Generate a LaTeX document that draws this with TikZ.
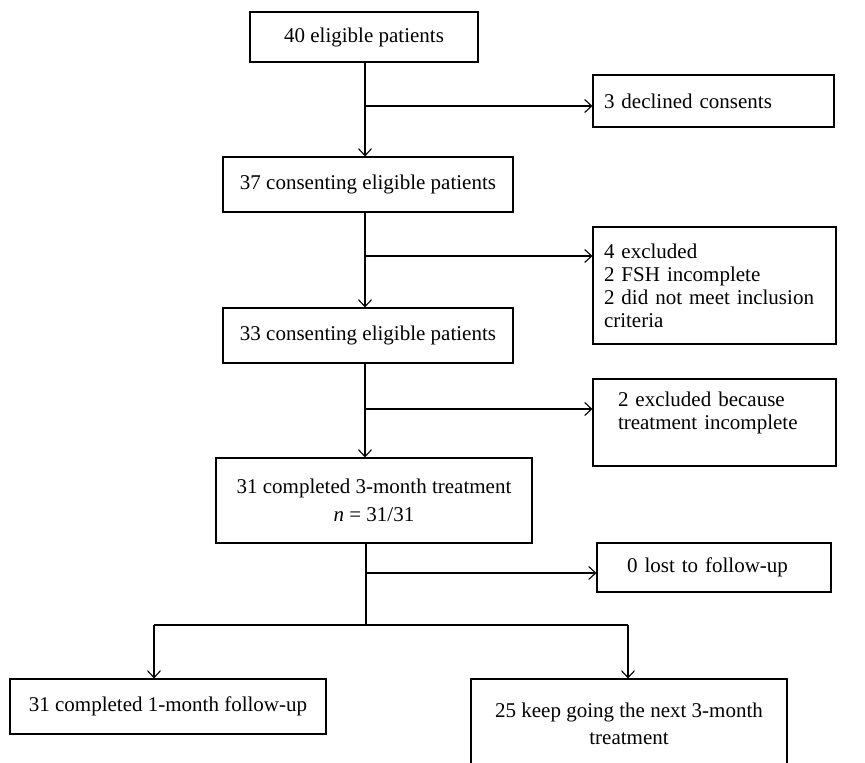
\documentclass[tikz,border=0pt]{standalone}
\usepackage{fontspec}
\setmainfont{Liberation Serif}
\usetikzlibrary{arrows.meta}
\tikzset{
	box/.style={draw, line width=1.1pt, inner xsep=11pt, inner ysep=0pt, font=\fontsize{21}{23}\selectfont},
	side/.style={box, align=left},
	wire/.style={line width=1.1pt},
	flow/.style={wire, -{Straight Barb[length=7pt,width=13pt]}},
}

\begin{document}
\begin{tikzpicture}[x=1pt,y=-1pt]
	%%%%% START %%%%%
	\useasboundingbox (0,0) rectangle (865,763);
	
	% main column
	\node[box, minimum width=228pt, minimum height=50pt] (elig40) at (364,37) {40 eligible patients};
	\node[box, minimum width=290pt, minimum height=55pt] (cons37) at (368,184.5) {37 consenting eligible patients};
	\node[box, minimum width=290pt, minimum height=55pt] (cons33) at (368,335.5) {33 consenting eligible patients};
	\node[box, minimum width=316pt, minimum height=85pt, align=center, font=\fontsize{21}{28}\selectfont] (treat31) at (374,500.5) {31 completed 3-month treatment\\\textit{n} = 31/31};
	\node[box, minimum width=316pt, minimum height=55pt] (follow31) at (168,706.5) {31 completed 1-month follow-up};
	\node[box, minimum width=316pt, minimum height=90pt, align=center, font=\fontsize{21}{27}\selectfont] (keep25) at (629,724) {25 keep going the next 3-month\\treatment};
	
	% side boxes
	\node[side, text width=219pt, minimum height=52pt] (decl3) at (713.5,101) {3 declined consents};
	\node[side, text width=221pt, minimum height=117pt] (excl4) at (714.5,285.5) {4 excluded\\2 FSH incomplete\\2 did not meet inclusion\\criteria};
	\node[side, inner xsep=25pt, text width=193pt, minimum height=87pt] (excl2) at (714.5,422.5) {2 excluded because\\treatment incomplete\\~};
	\node[side, inner xsep=30pt, text width=174pt, minimum height=49pt] (lost0) at (714,567.5) {0 lost to follow-up};
	
	\coordinate (br1) at (365,106);
	\coordinate (br2) at (365,256);
	\coordinate (br3) at (365,409);
	\coordinate (br4) at (366,573);
	\coordinate (split) at (366,625);
	\coordinate (splitL) at (154,625);
	\coordinate (splitR) at (628,625);
	
	\draw[flow] (elig40.south -| br1) -- (br1 |- cons37.north);
	\draw[flow] (br1) -- (br1 -| decl3.west);
	\draw[flow] (cons37.south -| br2) -- (br2 |- cons33.north);
	\draw[flow] (br2) -- (br2 -| excl4.west);
	\draw[flow] (cons33.south -| br3) -- (br3 |- treat31.north);
	\draw[flow] (br3) -- (br3 -| excl2.west);
	
	\draw[wire] (treat31.south -| br4) -- (split);
	\draw[flow] (br4) -- (br4 -| lost0.west);
	\draw[wire] (splitL) -- (splitR);
	\draw[flow] (splitL) -- (splitL |- follow31.north);
	\draw[flow] (splitR) -- (splitR |- keep25.north);
	
	%%%%% END %%%%%
\end{tikzpicture}
\end{document}
